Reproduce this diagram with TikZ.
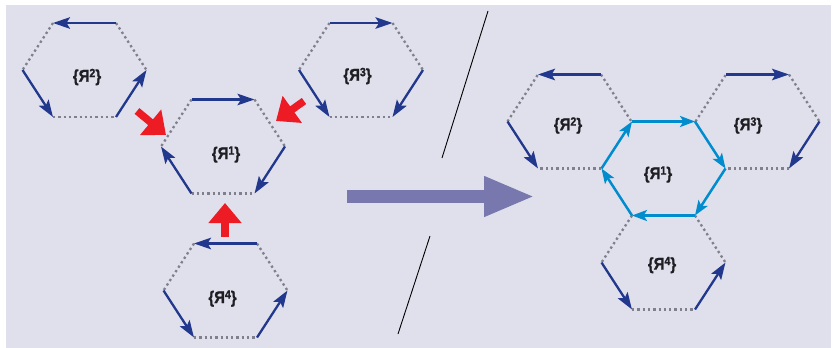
\documentclass[tikz,border=0pt]{standalone}
\usepackage{fontspec}
\setmainfont{Liberation Sans}
\newfontfamily\labfont[FakeStretch=0.88,BoldFeatures={FakeBold=1.2}]{Liberation Sans}
\usetikzlibrary{arrows.meta}
\definecolor{bg}{RGB}{224,224,237}
\definecolor{navy}{RGB}{33,56,140}
\definecolor{sky}{RGB}{0,140,205}
\definecolor{dotgray}{RGB}{128,128,140}
\definecolor{redarr}{RGB}{237,28,36}
\definecolor{bigarr}{RGB}{120,120,175}
\definecolor{labcol}{RGB}{30,30,35}
\newcommand{\hexpoints}[3]{%
  \coordinate (#1tl) at (#2-31.5,#3-47);
  \coordinate (#1tr) at (#2+31.5,#3-47);
  \coordinate (#1r)  at (#2+62,#3);
  \coordinate (#1br) at (#2+31.5,#3+47);
  \coordinate (#1bl) at (#2-31.5,#3+47);
  \coordinate (#1l)  at (#2-62,#3);
}
\newcommand{\upnum}[1]{\raisebox{4.5pt}{\fontsize{12}{12}\selectfont #1}}
\newcommand{\ya}[1]{\{Я\upnum{#1}\}}
\tikzset{
  navyedge/.style={navy, line width=2.3pt, -{Stealth[length=17pt,width=11.5pt,inset=3.5pt]}},
  skyedge/.style={sky, line width=2.5pt, -{Stealth[length=15pt,width=11pt,inset=3.5pt]}},
  dotedge/.style={dotgray, line width=2.3pt, dash pattern=on 2.3pt off 3pt},
  redarrow/.style={redarr, line width=7.5pt, -{Triangle[length=20pt,width=32pt]}},
  bigarrow/.style={bigarr, line width=13pt, -{Triangle[length=51pt,width=37pt]}},
  slash/.style={black, line width=0.9pt},
  lab/.style={font=\labfont\fontsize{17}{19}\selectfont\bfseries, text=labcol, inner sep=0pt}
}
\begin{document}
\begin{tikzpicture}[x=1pt,y=-1pt]
\useasboundingbox (0,0) rectangle (833,348);
\fill[bg] (6,5) rectangle (831,348);
% ---------- left group ----------
\hexpoints{Lb}{84.5}{70}
\hexpoints{La}{223}{146.5}
\hexpoints{Lc}{361}{70}
\hexpoints{Ld}{225.5}{290.5}
\foreach \h in {La,Lb,Lc,Ld}{
  \draw[dotedge] (\h tl) -- (\h l);
  \draw[dotedge] (\h tr) -- (\h r);
  \draw[dotedge] (\h bl) -- (\h br);
}
% R2 left
\draw[navyedge] (Lbtr) -- (Lbtl);
\draw[navyedge] (Lbl) -- (Lbbl);
\draw[navyedge] (Lbbr) -- (Lbr);
% R1 left
\draw[navyedge] (Latl) -- (Latr);
\draw[navyedge] (Lar) -- (Labr);
\draw[navyedge] (Labl) -- (Lal);
% R3 left
\draw[navyedge] (Lctl) -- (Lctr);
\draw[navyedge] (Lcl) -- (Lcbl);
\draw[navyedge] (Lcr) -- (Lcbr);
% R4 left
\draw[navyedge] (Ldtr) -- (Ldtl);
\draw[navyedge] (Ldl) -- (Ldbl);
\draw[navyedge] (Ldbr) -- (Ldr);
% labels
\node[lab] (labLb) at (87,77) {\ya{2}};
\node[lab] (labLa) at (226,154.5) {\ya{1}};
\node[lab] (labLc) at (357.5,76) {\ya{3}};
\node[lab] (labLd) at (222.5,298.5) {\ya{4}};
% red arrows
\coordinate (ra1) at (137,111); \coordinate (ra1t) at (166,135);
\coordinate (ra2) at (304,101); \coordinate (ra2t) at (276,121);
\coordinate (ra3) at (225,237); \coordinate (ra3t) at (225,203);
\draw[redarrow] (ra1) -- (ra1t);
\draw[redarrow] (ra2) -- (ra2t);
\draw[redarrow] (ra3) -- (ra3t);
% ---------- middle ----------
\coordinate (s1a) at (488,11); \coordinate (s1b) at (442,158);
\coordinate (s2a) at (430,236); \coordinate (s2b) at (398,334);
\draw[slash] (s1a) -- (s1b);
\draw[slash] (s2a) -- (s2b);
\coordinate (ba) at (347,196.5); \coordinate (bb) at (535,196.5);
\draw[bigarrow] (ba) -- (bb);
% ---------- right group ----------
\hexpoints{Ra}{663.5}{168.5}
\hexpoints{Rb}{569.5}{121.5}
\hexpoints{Rc}{757.5}{121.5}
\hexpoints{Rd}{663.5}{262.5}
% R2 right
\draw[dotedge] (Rbtr) -- (Rbr);
\draw[dotedge] (Rbbr) -- (Rbbl);
\draw[dotedge] (Rbl) -- (Rbtl);
\draw[navyedge] (Rbtr) -- (Rbtl);
\draw[navyedge] (Rbl) -- (Rbbl);
% R3 right
\draw[dotedge] (Rcl) -- (Rctl);
\draw[dotedge] (Rctr) -- (Rcr);
\draw[dotedge] (Rcbr) -- (Rcbl);
\draw[navyedge] (Rctl) -- (Rctr);
\draw[navyedge] (Rcr) -- (Rcbr);
% R4 right
\draw[dotedge] (Rdtl) -- (Rdl);
\draw[dotedge] (Rdtr) -- (Rdr);
\draw[dotedge] (Rdbl) -- (Rdbr);
\draw[navyedge] (Rdl) -- (Rdbl);
\draw[navyedge] (Rdbr) -- (Rdr);
% R1 right (cycle)
\draw[skyedge] (Ratl) -- (Ratr);
\draw[skyedge] (Ratr) -- (Rar);
\draw[skyedge] (Rar) -- (Rabr);
\draw[skyedge] (Rabr) -- (Rabl);
\draw[skyedge] (Rabl) -- (Ral);
\draw[skyedge] (Ral) -- (Ratl);
% labels
\node[lab] (labRb) at (568,125.5) {\ya{2}};
\node[lab] (labRa) at (658,174.5) {\ya{1}};
\node[lab] (labRc) at (748,125.5) {\ya{3}};
\node[lab] (labRd) at (662,265) {\ya{4}};
\end{tikzpicture}
\end{document}
